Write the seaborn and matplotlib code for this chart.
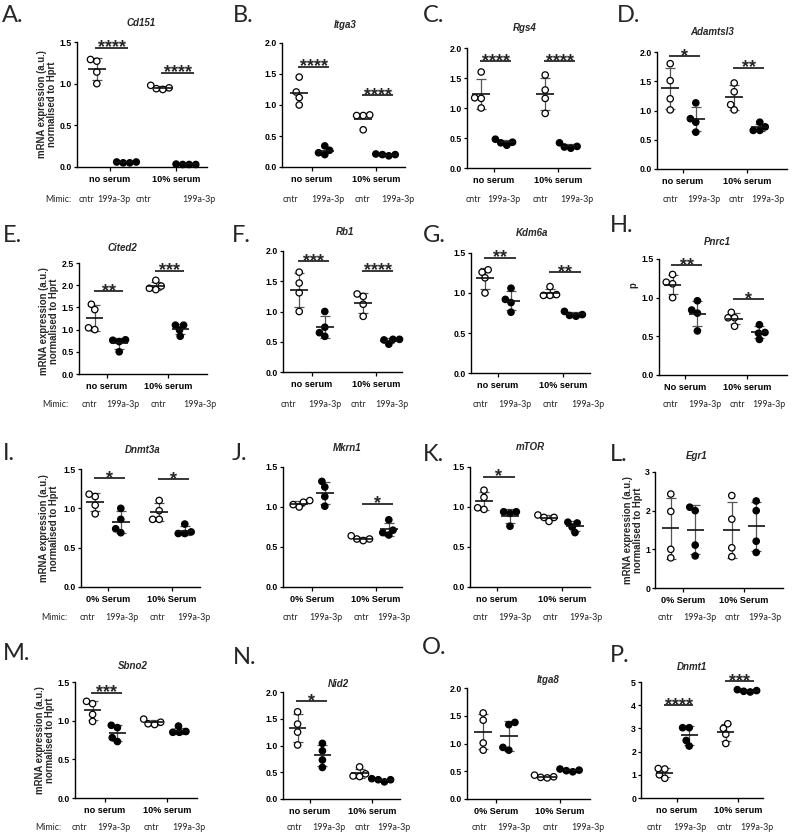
import numpy as np
import pandas as pd
import matplotlib
matplotlib.use("Agg")
import matplotlib.pyplot as plt
from matplotlib.ticker import FormatStrFormatter, MultipleLocator
import seaborn as sns

sns.set_theme(style="ticks")
plt.rcParams["font.family"] = ["Liberation Sans", "DejaVu Sans"]

# ---------------- data ----------------
MIMICS = ["cntr", "199a-3p"]
GROUPS_NS = ["no serum", "10% serum"]
GROUPS_NS_CAP = ["No serum", "10% serum"]
GROUPS_PCT = ["0% Serum", "10% Serum"]

# order: [group1 cntr, group1 199a-3p, group2 cntr, group2 199a-3p]
cd151 = [[1.27, 1.29, 1.14, 1.00], [0.05, 0.06, 0.05, 0.06], [0.98, 0.94, 0.95, 0.93], [0.03, 0.03, 0.035, 0.03]]
itga3 = [[1.45, 1.21, 1.12, 1.00], [0.20, 0.27, 0.23, 0.34], [0.83, 0.83, 0.84, 0.60], [0.18, 0.21, 0.20, 0.20]]
rgs4 = [[1.60, 1.17, 1.16, 1.00], [0.38, 0.42, 0.43, 0.48], [1.55, 1.30, 1.16, 0.91], [0.42, 0.33, 0.36, 0.35]]
adamtsl3 = [[1.80, 1.51, 1.20, 1.01], [1.13, 0.86, 0.80, 0.63], [1.47, 1.32, 1.10, 1.01], [0.66, 0.80, 0.66, 0.72]]
cited2 = [[1.57, 1.45, 1.00, 1.04], [0.76, 0.73, 0.77, 0.50], [2.11, 1.93, 1.98, 1.90], [1.10, 1.10, 0.99, 0.85]]
rb1 = [[1.65, 1.47, 1.31, 1.00], [1.00, 0.74, 0.65, 0.59], [1.25, 1.29, 1.12, 0.92], [0.54, 0.54, 0.53, 0.46]]
kdm6a = [[1.26, 1.29, 1.19, 1.00], [1.06, 0.92, 0.88, 0.76], [1.08, 0.97, 0.97, 0.98], [0.71, 0.73, 0.77, 0.72]]
pnrc1 = [[1.30, 1.20, 1.18, 1.00], [0.96, 0.84, 0.80, 0.57], [0.81, 0.74, 0.74, 0.63], [0.65, 0.55, 0.54, 0.46]]
dnmt3a = [[1.15, 1.18, 1.04, 0.93], [1.00, 0.86, 0.69, 0.74], [1.10, 0.97, 0.86, 0.86], [0.80, 0.68, 0.70, 0.68]]
mkrn1 = [[1.08, 1.06, 1.00, 1.03], [1.32, 1.25, 1.13, 1.01], [0.58, 0.60, 0.64, 0.60], [0.84, 0.71, 0.68, 0.65]]
mtor = [[1.21, 1.12, 0.97, 0.99], [0.94, 0.92, 0.94, 0.76], [0.90, 0.82, 0.87, 0.87], [0.81, 0.80, 0.75, 0.68]]
egr1 = [[2.43, 1.98, 1.00, 0.78], [2.00, 2.09, 1.11, 0.83], [2.39, 1.78, 1.04, 0.81], [2.25, 2.00, 1.21, 0.92]]
sbno2 = [[1.22, 1.25, 1.08, 0.99], [0.91, 0.94, 0.73, 0.78], [1.02, 0.95, 0.98, 0.96], [0.93, 0.85, 0.85, 0.86]]
nid2 = [[1.63, 1.40, 1.25, 1.01], [1.04, 0.90, 0.73, 0.59], [0.60, 0.42, 0.47, 0.43], [0.32, 0.36, 0.38, 0.36]]
itga8 = [[1.55, 1.42, 1.01, 0.88], [1.34, 1.38, 0.88, 0.93], [0.39, 0.43, 0.40, 0.38], [0.49, 0.51, 0.52, 0.54]]
dnmt1 = [[1.27, 1.25, 1.00, 0.85], [3.03, 3.03, 2.48, 2.24], [3.20, 3.00, 2.75, 2.35], [4.57, 4.67, 4.60, 4.63]]

# significance: (group index, bar height, stars)
sig_cd151 = [(0, 1.43, "****"), (1, 1.13, "****")]
sig_itga3 = [(0, 1.62, "****"), (1, 1.16, "****")]
sig_rgs4 = [(0, 1.78, "****"), (1, 1.78, "****")]
sig_adamtsl3 = [(0, 1.93, "*"), (1, 1.73, "**")]
sig_cited2 = [(0, 1.86, "**"), (1, 2.33, "***")]
sig_rb1 = [(0, 1.83, "***"), (1, 1.67, "****")]
sig_kdm6a = [(0, 1.44, "**"), (1, 1.26, "**")]
sig_pnrc1 = [(0, 1.42, "**"), (1, 0.98, "*")]
sig_dnmt3a = [(0, 1.38, "*"), (1, 1.37, "*")]
sig_mkrn1 = [(1, 1.04, "*")]
sig_mtor = [(0, 1.375, "*")]
sig_egr1 = []
sig_sbno2 = [(0, 1.36, "***")]
sig_nid2 = [(0, 1.83, "*")]
sig_itga8 = []
sig_dnmt1 = [(0, 3.99, "****"), (1, 5.03, "***")]

YLAB = "mRNA expression (a.u.)\nnormalised to Hprt"

# ---------------- layout (pixels) ----------------
W, H = 793, 835
fig = plt.figure(figsize=(W / 100, H / 100), dpi=100)
fig.patch.set_facecolor("white")


def fx(x):
    return x / W


def fy(y):
    return 1 - y / H


panels = [
    ("A.", "Cd151", cd151, GROUPS_NS, 1.5, 0.5, "%.1f", sig_cd151, True, (YLAB, 47, 104), (77, 110, 176, 207, 42, 167), (141, 23), (2, 16), (86, 114, 143, 199), 58, 200),
    ("B.", "Itga3", itga3, GROUPS_NS, 2.0, 0.5, "%.1f", sig_itga3, False, None, (282, 312, 376, 405, 43, 167), (345, 25), (233, 15), (290, 328, 362, 398), None, 200),
    ("C.", "Rgs4", rgs4, GROUPS_NS, 2.0, 0.5, "%.1f", sig_rgs4, True, None, (467, 494, 558, 590, 48, 168), (525, 28), (423, 15), (473, 504, 540, 577), None, 200),
    ("D.", "Adamtsl3", adamtsl3, GROUPS_NS, 2.0, 0.5, "%.1f", sig_adamtsl3, True, None, (657, 683, 747, 787, 52, 169), (712, 32), (617, 16), (670, 704, 736, 768), None, 200),
    ("E.", "Cited2", cited2, GROUPS_NS, 2.5, 0.5, "%.1f", sig_cited2, True, (YLAB, 49, 321), (79, 107, 168, 207, 263, 374), (122, 248), (3, 236), (89, 123, 158, 200), 55, 405),
    ("F.", "Rb1", rb1, GROUPS_NS, 2.0, 0.5, "%.1f", sig_rb1, True, None, (283, 312, 376, 402, 251, 372), (345, 232), (232, 236), (288, 325, 358, 392), None, 405),
    ("G.", "Kdm6a", kdm6a, GROUPS_NS, 1.5, 0.5, "%.1f", sig_kdm6a, True, None, (471, 498, 563, 590, 253, 373), (532, 233), (423, 236), (480, 515, 550, 588), None, 405),
    ("H.", "Pnrc1", pnrc1, GROUPS_NS_CAP, 1.5, 0.5, "%.1f", sig_pnrc1, True, ("p", 633, 285), (659, 685, 747, 787, 259, 375), (717, 242), (610, 226), (670, 705, 737, 769), None, 405),
    ("I.", "Dnmt3a", dnmt3a, GROUPS_PCT, 1.5, 0.5, "%.1f", sig_dnmt3a, True, (YLAB, 49, 528), (81, 108, 172, 200, 469, 587), (143, 450), (3, 453), (87, 122, 157, 194), 54, 617),
    ("J.", "Mkrn1", mkrn1, GROUPS_PCT, 1.5, 0.5, "%.1f", sig_mkrn1, True, None, (283, 312, 376, 402, 467, 587), (347, 448), (232, 453), (290, 326, 361, 394), None, 617),
    ("K.", "mTOR", mtor, GROUPS_NS, 1.5, 0.5, "%.1f", sig_mtor, True, None, (470, 497, 562, 590, 467, 587), (530, 447), (423, 455), (480, 515, 550, 586), None, 617),
    ("L.", "Egr1", egr1, GROUPS_PCT, 3, 1, "%d", sig_egr1, True, (YLAB, 633, 530), (655, 683, 744, 783, 472, 588), (697, 456), (610, 455), (665, 700, 732, 765), None, 617),
    ("M.", "Sbno2", sbno2, GROUPS_NS, 1.5, 0.5, "%.1f", sig_sbno2, True, (YLAB, 45, 740), (75, 105, 167, 197, 682, 798), (133, 666), (3, 653), (79, 114, 151, 189), 48, 828),
    ("N.", "Nid2", nid2, GROUPS_NS, 2.0, 0.5, "%.1f", sig_nid2, True, None, (283, 310, 372, 400, 692, 799), (338, 684), (233, 657), (294, 329, 362, 394), None, 828),
    ("O.", "Itga8", itga8, GROUPS_PCT, 2.0, 0.5, "%.1f", sig_itga8, True, None, (467, 496, 560, 590, 688, 799), (548, 680), (422, 647), (479, 514, 550, 588), None, 828),
    ("P.", "Dnmt1", dnmt1, GROUPS_NS, 5, 1, "%d", sig_dnmt1, True, None, (641, 677, 738, 763, 682, 798), (692, 667), (610, 656), (654, 690, 724, 757), None, 828),
]

TICK_FS = 6.3
DODGE = 0.2
SWARM_SIZE = 3.6     # marker size used for the beeswarm layout (points may overlap a little)
SHOW_SIZE = 4.6      # marker size actually displayed

swarm_colls = []

for (letter, gene, data, groups, ymax, ystep, fmt, sigs, show_sd, ylab,
     px, tpos, lpos, mxs, mlab, rowy) in panels:
    x0, x1, x2, xr, yt, yb = px
    ax = fig.add_axes([fx(x0), fy(yb), (xr - x0) / W, (yb - yt) / H])

    rows = []
    for gi, g in enumerate(groups):
        for hi, m in enumerate(MIMICS):
            for v in data[gi * 2 + hi]:
                rows.append((g, m, v))
    df = pd.DataFrame(rows, columns=["serum", "mimic", "value"])

    n_before = len(ax.collections)
    sns.swarmplot(data=df, x="serum", y="value", hue="mimic", order=groups,
                  hue_order=MIMICS, dodge=True,
                  palette={"cntr": "white", "199a-3p": "black"},
                  edgecolor="black", linewidth=0.9, size=SWARM_SIZE, legend=False,
                  ax=ax, zorder=3, clip_on=False)
    swarm_colls.extend(ax.collections[n_before:])

    # mean and SD lines
    stats = df.groupby(["serum", "mimic"])["value"].agg(["mean", "std"])
    for gi, g in enumerate(groups):
        for hi, m in enumerate(MIMICS):
            xc = gi + (-DODGE if hi == 0 else DODGE)
            mu, sd = stats.loc[(g, m), "mean"], stats.loc[(g, m), "std"]
            ax.hlines(mu, xc - 0.14, xc + 0.14, color="#111111", lw=1.2, zorder=4)
            if show_sd:
                ax.vlines(xc, mu - sd, mu + sd, color="#555555", lw=0.9, zorder=2)
                ax.hlines([mu - sd, mu + sd], xc - 0.08, xc + 0.08, color="#555555", lw=0.9, zorder=2)

    # significance bars
    for gi, yv, txt in sigs:
        ax.hlines(yv, gi - 0.22, gi + 0.27, color="black", lw=1.1, clip_on=False)
        ax.annotate(txt, xy=(gi + 0.025, yv), xytext=(0, -3.3), textcoords="offset points",
                    ha="center", va="baseline", fontsize=13, fontweight="bold",
                    annotation_clip=False)

    unit = x2 - x1
    ax.set_xlim(-(x1 - x0) / unit, 1 + (xr - x2) / unit)
    ax.set_ylim(0, ymax)
    ax.yaxis.set_major_locator(MultipleLocator(ystep))
    ax.yaxis.set_major_formatter(FormatStrFormatter(fmt))
    ax.set_xticks([0, 1])
    ax.set_xticklabels(groups)
    ax.set_xlabel("")
    ax.set_ylabel("")
    for s in ["top", "right"]:
        ax.spines[s].set_visible(False)
    for s in ["left", "bottom"]:
        ax.spines[s].set_linewidth(1.0)
        ax.spines[s].set_color("black")
    ax.tick_params(axis="y", labelsize=TICK_FS, width=0.9, length=2.5, pad=1.0, colors="black")
    ax.tick_params(axis="x", labelsize=TICK_FS + 0.3, width=0.9, length=3, pad=3.0, colors="black")
    for lab in ax.get_xticklabels() + ax.get_yticklabels():
        lab.set_fontweight("bold")
    ax.set_facecolor("none")

    fig.text(fx(tpos[0]), fy(tpos[1]), gene, ha="center", va="center",
             fontsize=7, fontweight="bold", fontstyle="italic")
    fig.text(fx(lpos[0]), fy(lpos[1]), letter, ha="left", va="center",
             fontsize=17, family=["Lato", "DejaVu Sans"])
    if ylab is not None:
        fig.text(fx(ylab[1]), fy(ylab[2]), ylab[0], rotation=90, ha="center", va="center",
                 fontsize=6.9, fontweight="bold", multialignment="center", linespacing=1.1)
    if mlab is not None:
        fig.text(fx(mlab), fy(rowy), "Mimic:", ha="center", va="center",
                 fontsize=6.4, family=["Lato", "DejaVu Sans"])
    for xm, name in zip(mxs, MIMICS * 2):
        fig.text(fx(xm), fy(rowy), name, ha="center", va="center",
                 fontsize=6.4, family=["Lato", "DejaVu Sans"])

# compute the beeswarm layout once, then freeze it and show slightly larger markers
fig.canvas.draw()
for coll in swarm_colls:
    if "draw" in coll.__dict__:
        del coll.__dict__["draw"]
    n = len(coll.get_offsets())
    coll.set_sizes(np.full(n, SHOW_SIZE ** 2))

fig.savefig("out.png", dpi=100, facecolor="white")
